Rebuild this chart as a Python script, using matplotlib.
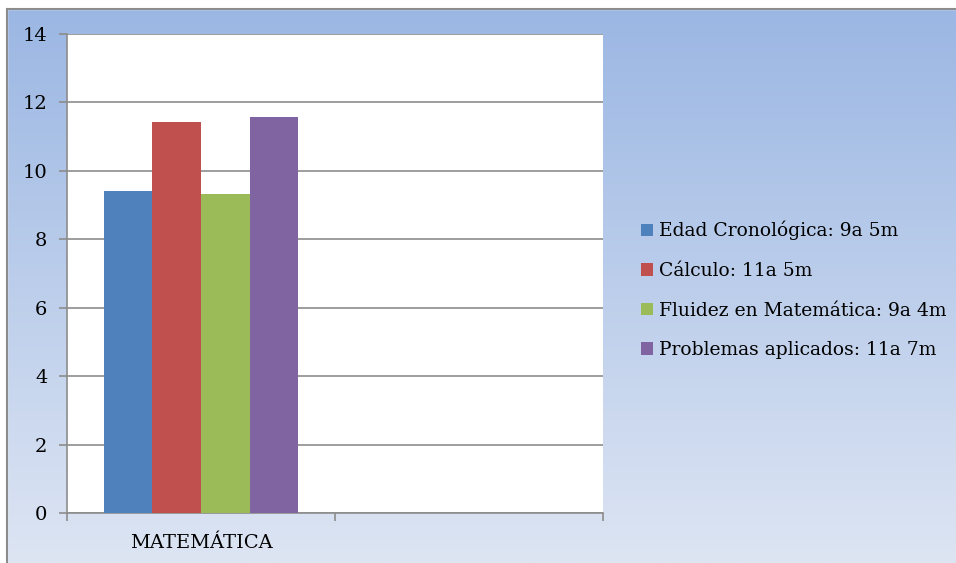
import numpy as np
import matplotlib
matplotlib.use("Agg")
import matplotlib.pyplot as plt
from matplotlib.patches import Patch

# data (edad en años decimales)
categories = ["MATEMÁTICA", ""]
series = ["Edad Cronológica: 9a 5m", "Cálculo: 11a 5m",
          "Fluidez en Matemática: 9a 4m", "Problemas aplicados: 11a 7m"]
values = [9.42, 11.42, 9.33, 11.58]
colors = ["#4F81BD", "#C0504D", "#9BBB59", "#8064A2"]
yticks = [0, 2, 4, 6, 8, 10, 12, 14]

plt.rcParams['font.family'] = ['DejaVu Serif']

fig = plt.figure(figsize=(9.56, 5.63), dpi=100)
W, H = 956, 563

# gradient background
bg = fig.add_axes([0, 0, 1, 1], zorder=-2)
grad = np.linspace(0, 1, 256).reshape(-1, 1)
top = np.array([0x9A, 0xB6, 0xE3]) / 255
bot = np.array([0xDD, 0xE5, 0xF3]) / 255
img = top + (bot - top) * grad[:, :, None]
bg.imshow(img, aspect='auto', extent=[0, W, H, 0])
bg.add_patch(plt.Rectangle((0, 0), W, 9, color='white', zorder=2))
bg.add_patch(plt.Rectangle((0, 0), 7, H, color='white', zorder=2))
bg.plot([7, 7], [9, H], color='#8C8C8C', lw=1.5, zorder=3)
bg.plot([7, W], [9, 9], color='#8C8C8C', lw=1.5, zorder=3)
bg.set_xlim(0, W)
bg.set_ylim(H, 0)
bg.axis('off')

ax = fig.add_axes([67 / W, 1 - 513 / H, (603 - 67) / W, (513 - 34) / H])
ax.set_facecolor('white')

bw = 1 / 5.5
x0 = 0
for i, (v, c) in enumerate(zip(values, colors)):
    ax.bar(x0 + (i - 1.5) * bw, v, width=bw, color=c, zorder=3)

ax.set_xlim(-0.5, 1.5)
ax.set_ylim(0, 14)
ax.set_yticks(yticks)
ax.set_yticklabels([str(t) for t in yticks], fontsize=14)
ax.yaxis.grid(True, color='#8C8C8C', lw=1.2, zorder=0)
ax.set_axisbelow(True)

ax.set_xticks([-0.5, 0.5, 1.5])
ax.set_xticklabels([])
ax.set_xticks([0, 1], minor=True)
ax.set_xticklabels(categories, minor=True, fontsize=14)
ax.tick_params(axis='x', which='minor', length=0, pad=15)
ax.tick_params(axis='x', which='major', length=6, color='#8C8C8C', width=1.2)
ax.tick_params(axis='y', length=6, color='#8C8C8C', width=1.2, pad=8)

for s in ['top', 'right']:
    ax.spines[s].set_visible(False)
for s in ['left', 'bottom']:
    ax.spines[s].set_color('#8C8C8C')
    ax.spines[s].set_linewidth(1.2)

handles = [Patch(facecolor=c, edgecolor='none') for c in colors]
fig.legend(handles, series, loc='center left', bbox_to_anchor=(624 / W, 1 - 290 / H),
           frameon=False, fontsize=13.5, handlelength=0.65, handleheight=0.65,
           handletextpad=0.3, labelspacing=1.15)

fig.savefig("out.png", dpi=100)
